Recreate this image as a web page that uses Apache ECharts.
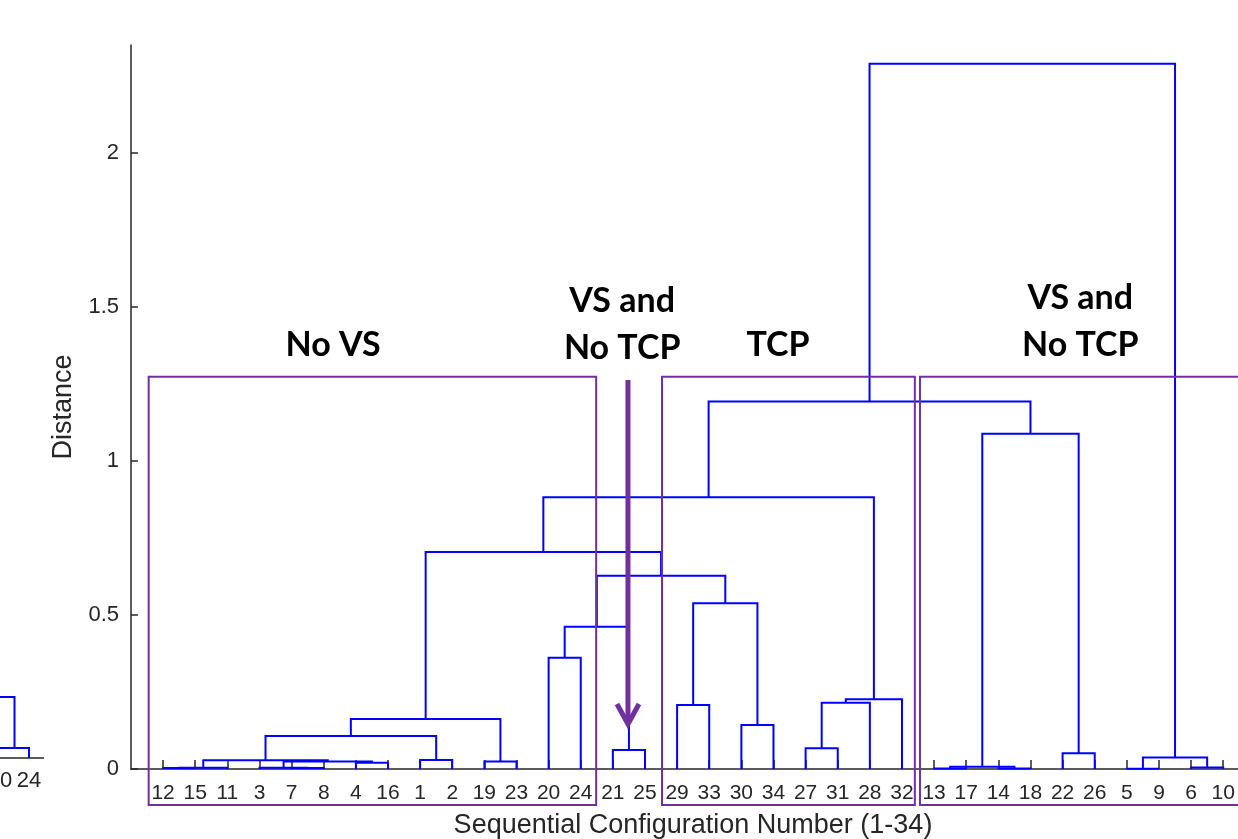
<!DOCTYPE html>
<html>
<head>
<meta charset="utf-8">
<script src="https://cdn.jsdelivr.net/npm/echarts@6/dist/echarts.min.js"></script>
<style>
  html, body { margin: 0; padding: 0; background: #fff; }
  #chart { width: 1238px; height: 839px; }
</style>
</head>
<body>
<div id="chart"></div>
<script>
// leaf order along the x axis (configuration numbers)
const leafOrder = [12, 15, 11, 3, 7, 8, 4, 16, 1, 2, 19, 23, 20, 24, 21, 25,
  29, 33, 30, 34, 27, 31, 28, 32, 13, 17, 14, 18, 22, 26, 5, 9, 6, 10];

// linkage rows [child A, child B, distance]; ids above 34 point to earlier rows (35 = row 1)
const linkage = [
  [12, 15, 0.003], [35, 11, 0.004], [7, 8, 0.003], [3, 37, 0.004],
  [4, 16, 0.02], [38, 39, 0.024], [36, 40, 0.028], [1, 2, 0.029],
  [41, 42, 0.107], [19, 23, 0.024], [43, 44, 0.162], [20, 24, 0.361],
  [21, 25, 0.062], [46, 47, 0.462], [29, 33, 0.208], [30, 34, 0.143],
  [49, 50, 0.538], [48, 51, 0.627], [45, 52, 0.704], [27, 31, 0.067],
  [54, 28, 0.215], [55, 32, 0.226], [53, 56, 0.882], [13, 17, 0.002],
  [14, 18, 0.002], [58, 59, 0.007], [22, 26, 0.051], [60, 61, 1.088],
  [57, 62, 1.193], [5, 9, 0.001], [6, 10, 0.005], [64, 65, 0.037],
  [63, 66, 2.289]
];

const yTicks = [0, 0.5, 1, 1.5, 2];

// edge of the neighbouring subplot (only its last two leaves are visible)
const fragLeaves = ['20', '24'];
const fragLeafPos = [13, 14];
const fragPairHeight = 0.0325;
const fragParentHeight = 0.198;

// group boxes (leaf-position spans) and their labels
const groupSpans = [[0.55, 14.48], [16.53, 24.4], [24.56, 36]];
const groupTop = 1.273;
const groupBottom = -0.117;
const groupLabels = ['No VS', 'VS and\nNo TCP', 'TCP', 'VS and\nNo TCP'];
const groupLabelX = [6.29, 15.29, 20.14, 29.55];
const groupLabelY = [1.377, 1.442, 1.377, 1.451];
const arrowX = 15.47, arrowFrom = 1.263, arrowTo = 0.146;

// build U-shaped links from the linkage table
const n = leafOrder.length;
const pos = {}, hgt = {};
leafOrder.forEach((leaf, i) => { pos[leaf] = i + 1; hgt[leaf] = 0; });
const links = linkage.map(([a, b, h], k) => {
  const id = n + 1 + k;
  pos[id] = (pos[a] + pos[b]) / 2;
  hgt[id] = h;
  return { coords: [[pos[a], hgt[a]], [pos[a], h], [pos[b], h], [pos[b], hgt[b]]] };
});

const fragMid = (fragLeafPos[0] + fragLeafPos[1]) / 2;
const fragLinks = [
  { coords: [[fragLeafPos[0] - 0.04, 0], [fragLeafPos[0] - 0.04, fragPairHeight], [fragLeafPos[1], fragPairHeight], [fragLeafPos[1], 0]] },
  { coords: [[fragMid, fragPairHeight], [fragMid, fragParentHeight], [fragMid - 1, fragParentHeight]] }
];

const axisColor = '#262626';
const font = 'Liberation Sans';
const leafPositions = leafOrder.map((_, i) => i + 1);

const chart = echarts.init(document.getElementById('chart'));
chart.setOption({
  backgroundColor: '#fff',
  animation: false,
  grid: [
    { left: 131, right: 0, top: 45, bottom: 70, outerBoundsMode: 'none' },
    { left: 0, width: 43.5, top: 34, bottom: 81, outerBoundsMode: 'none' }
  ],
  xAxis: [
    {
      gridIndex: 0, type: 'value', min: 0, max: 34.46,
      axisLine: { lineStyle: { color: axisColor, width: 1.5 } },
      axisTick: { inside: true, length: 9, customValues: leafPositions, lineStyle: { color: axisColor, width: 1.5 } },
      axisLabel: {
        customValues: leafPositions, formatter: (v) => String(leafOrder[Math.round(v) - 1]),
        color: axisColor, fontSize: 21, fontFamily: font, margin: 14
      },
      splitLine: { show: false },
      name: 'Sequential Configuration Number (1-34)', nameLocation: 'middle', nameGap: 43,
      nameTextStyle: { color: axisColor, fontSize: 27, fontFamily: font, padding: [0, 0, 0, 17] }
    },
    {
      gridIndex: 1, type: 'value', min: 13, max: 14.5,
      axisLine: { lineStyle: { color: axisColor, width: 1.5 } },
      axisTick: { show: false },
      axisLabel: {
        customValues: fragLeafPos, formatter: (v) => fragLeaves[fragLeafPos.indexOf(Math.round(v))],
        color: axisColor, fontSize: 22, fontFamily: font, margin: 12
      },
      splitLine: { show: false }
    }
  ],
  yAxis: [
    {
      gridIndex: 0, type: 'value', min: 0, max: 2.35,
      axisLine: { show: true, lineStyle: { color: axisColor, width: 1.5 } },
      axisTick: { show: true, inside: true, length: 7, customValues: yTicks, lineStyle: { color: axisColor, width: 1.5 } },
      axisLabel: { customValues: yTicks, color: axisColor, fontSize: 22, fontFamily: font, margin: 12 },
      splitLine: { show: false },
      name: 'Distance', nameLocation: 'middle', nameGap: 49, nameRotate: 90,
      nameTextStyle: { color: axisColor, fontSize: 27, fontFamily: font }
    },
    {
      gridIndex: 1, type: 'value', min: 0, max: 2.35, show: false
    }
  ],
  series: [
    {
      type: 'lines', coordinateSystem: 'cartesian2d', xAxisIndex: 0, yAxisIndex: 0,
      polyline: true, silent: true, data: links,
      lineStyle: { color: '#0000ff', width: 2, opacity: 1 }
    },
    {
      type: 'lines', coordinateSystem: 'cartesian2d', xAxisIndex: 1, yAxisIndex: 1,
      polyline: true, silent: true, data: fragLinks,
      lineStyle: { color: '#0000ff', width: 2, opacity: 1 }
    }
  ]
});

// overlays placed through the chart's own scales
const px = (x, y) => chart.convertToPixel({ gridIndex: 0 }, [x, y]);
const purple = '#7030a0';
const graphics = [];
groupSpans.forEach(([x0, x1]) => {
  const [ax, ay] = px(x0, groupTop);
  const [bx, by] = px(x1, groupBottom);
  graphics.push({
    type: 'rect', z: 100, silent: true,
    shape: { x: ax, y: ay, width: bx - ax, height: by - ay },
    style: { fill: 'none', stroke: purple, lineWidth: 2 }
  });
});
groupLabels.forEach((text, i) => {
  const [x, y] = px(groupLabelX[i], groupLabelY[i]);
  graphics.push({
    type: 'text', z: 101, silent: true,
    style: {
      text, x, y, align: 'center', verticalAlign: 'middle',
      font: 'bold 34px Lato', fill: '#000', lineHeight: 47
    }
  });
});
const [arx, ary0] = px(arrowX, arrowFrom);
const [, ary1] = px(arrowX, arrowTo);
graphics.push({
  type: 'line', z: 102, silent: true,
  shape: { x1: arx, y1: ary0, x2: arx, y2: ary1 - 3 },
  style: { stroke: purple, lineWidth: 5 }
});
graphics.push({
  type: 'polyline', z: 102, silent: true,
  shape: { points: [[arx - 11, ary1 - 20], [arx, ary1], [arx + 11, ary1 - 20]] },
  style: { stroke: purple, lineWidth: 5, fill: 'none', lineJoin: 'miter' }
});
chart.setOption({ graphic: graphics });
</script>
</body>
</html>
